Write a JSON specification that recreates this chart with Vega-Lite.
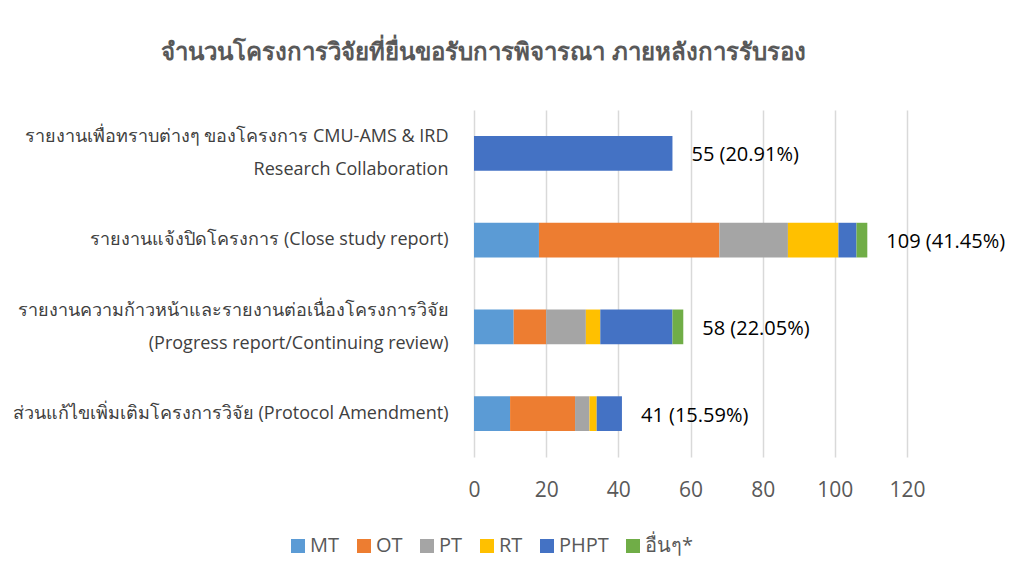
{
  "$schema": "https://vega.github.io/schema/vega-lite/v6.json",
  "width": 433,
  "height": 347,
  "autosize": "none",
  "padding": {"left": 474, "top": 110, "right": 104, "bottom": 120},
  "background": "white",
  "config": {"view": {"stroke": null}, "font": "Open Sans"},
  "title": {
    "text": "จำนวนโครงการวิจัยที่ยื่นขอรับการพิจารณา ภายหลังการรับรอง",
    "fontSize": 24,
    "fontWeight": "bold",
    "color": "#595959",
    "anchor": "middle",
    "dx": -207,
    "offset": 45
  },
  "datasets": {
    "counts": [
      {"report": "รายงานเพื่อทราบต่างๆ ของโครงการ CMU-AMS & IRD\nResearch Collaboration", "type": "PHPT", "n": 55},
      {"report": "รายงานแจ้งปิดโครงการ (Close study report)", "type": "MT", "n": 18},
      {"report": "รายงานแจ้งปิดโครงการ (Close study report)", "type": "OT", "n": 50},
      {"report": "รายงานแจ้งปิดโครงการ (Close study report)", "type": "PT", "n": 19},
      {"report": "รายงานแจ้งปิดโครงการ (Close study report)", "type": "RT", "n": 14},
      {"report": "รายงานแจ้งปิดโครงการ (Close study report)", "type": "PHPT", "n": 5},
      {"report": "รายงานแจ้งปิดโครงการ (Close study report)", "type": "อื่นๆ*", "n": 3},
      {"report": "รายงานความก้าวหน้าและรายงานต่อเนื่องโครงการวิจัย\n(Progress report/Continuing review)", "type": "MT", "n": 11},
      {"report": "รายงานความก้าวหน้าและรายงานต่อเนื่องโครงการวิจัย\n(Progress report/Continuing review)", "type": "OT", "n": 9},
      {"report": "รายงานความก้าวหน้าและรายงานต่อเนื่องโครงการวิจัย\n(Progress report/Continuing review)", "type": "PT", "n": 11},
      {"report": "รายงานความก้าวหน้าและรายงานต่อเนื่องโครงการวิจัย\n(Progress report/Continuing review)", "type": "RT", "n": 4},
      {"report": "รายงานความก้าวหน้าและรายงานต่อเนื่องโครงการวิจัย\n(Progress report/Continuing review)", "type": "PHPT", "n": 20},
      {"report": "รายงานความก้าวหน้าและรายงานต่อเนื่องโครงการวิจัย\n(Progress report/Continuing review)", "type": "อื่นๆ*", "n": 3},
      {"report": "ส่วนแก้ไขเพิ่มเติมโครงการวิจัย (Protocol Amendment)", "type": "MT", "n": 10},
      {"report": "ส่วนแก้ไขเพิ่มเติมโครงการวิจัย (Protocol Amendment)", "type": "OT", "n": 18},
      {"report": "ส่วนแก้ไขเพิ่มเติมโครงการวิจัย (Protocol Amendment)", "type": "PT", "n": 4},
      {"report": "ส่วนแก้ไขเพิ่มเติมโครงการวิจัย (Protocol Amendment)", "type": "RT", "n": 2},
      {"report": "ส่วนแก้ไขเพิ่มเติมโครงการวิจัย (Protocol Amendment)", "type": "PHPT", "n": 7}
    ],
    "totals": [
      {"report": "รายงานเพื่อทราบต่างๆ ของโครงการ CMU-AMS & IRD\nResearch Collaboration", "total": 55, "label": "55 (20.91%)"},
      {"report": "รายงานแจ้งปิดโครงการ (Close study report)", "total": 109, "label": "109 (41.45%)"},
      {"report": "รายงานความก้าวหน้าและรายงานต่อเนื่องโครงการวิจัย\n(Progress report/Continuing review)", "total": 58, "label": "58 (22.05%)"},
      {"report": "ส่วนแก้ไขเพิ่มเติมโครงการวิจัย (Protocol Amendment)", "total": 41, "label": "41 (15.59%)"}
    ]
  },
  "layer": [
    {
      "data": {"name": "counts"},
      "transform": [
        {"calculate": "indexof(['MT','OT','PT','RT','PHPT','อื่นๆ*'], datum.type)", "as": "ord"}
      ],
      "mark": {"type": "bar"},
      "encoding": {
        "y": {
          "field": "report",
          "type": "nominal",
          "sort": null,
          "scale": {
            "domain": [
              "รายงานเพื่อทราบต่างๆ ของโครงการ CMU-AMS & IRD\nResearch Collaboration",
              "รายงานแจ้งปิดโครงการ (Close study report)",
              "รายงานความก้าวหน้าและรายงานต่อเนื่องโครงการวิจัย\n(Progress report/Continuing review)",
              "ส่วนแก้ไขเพิ่มเติมโครงการวิจัย (Protocol Amendment)"
            ],
            "paddingInner": 0.6,
            "paddingOuter": 0.3
          },
          "axis": {
            "title": null,
            "domain": false,
            "ticks": false,
            "labelExpr": "split(datum.label, '\\n')",
            "labelBaseline": {"condition": {"test": "indexof(datum.label, '\\n') >= 0", "value": "line-bottom"}, "value": "middle"},
            "labelFontSize": 18,
            "labelColor": "#404040",
            "labelPadding": 26,
            "labelLimit": 600,
            "labelLineHeight": 33
          }
        },
        "x": {
          "field": "n",
          "type": "quantitative",
          "stack": "zero",
          "scale": {"domain": [0, 120], "nice": false},
          "axis": {
            "title": null,
            "values": [0, 20, 40, 60, 80, 100, 120],
            "domain": false,
            "ticks": false,
            "gridColor": "#d9d9d9",
            "gridWidth": 1.5,
            "labelFlush": false,
            "labelFontSize": 21,
            "labelColor": "#595959",
            "labelPadding": 22
          }
        },
        "color": {
          "field": "type",
          "type": "nominal",
          "scale": {
            "domain": ["MT", "OT", "PT", "RT", "PHPT", "อื่นๆ*"],
            "range": ["#5B9BD5", "#ED7D31", "#A5A5A5", "#FFC000", "#4472C4", "#70AD47"]
          },
          "legend": {
            "title": null,
            "orient": "none",
            "direction": "horizontal",
            "legendX": -186,
            "legendY": 426,
            "symbolType": "square",
            "symbolSize": 196,
            "symbolStrokeWidth": 0,
            "labelFontSize": 20,
            "labelColor": "#595959",
            "labelOffset": 2,
            "columnPadding": 14
          }
        },
        "order": {"field": "ord", "type": "quantitative", "sort": "ascending"}
      }
    },
    {
      "data": {"name": "totals"},
      "mark": {"type": "text", "align": "left", "baseline": "middle", "dx": 19, "dy": 2, "fontSize": 20, "color": "#000000"},
      "encoding": {
        "y": {"field": "report", "type": "nominal", "sort": null},
        "x": {"field": "total", "type": "quantitative"},
        "text": {"field": "label", "type": "nominal"}
      }
    }
  ]
}
